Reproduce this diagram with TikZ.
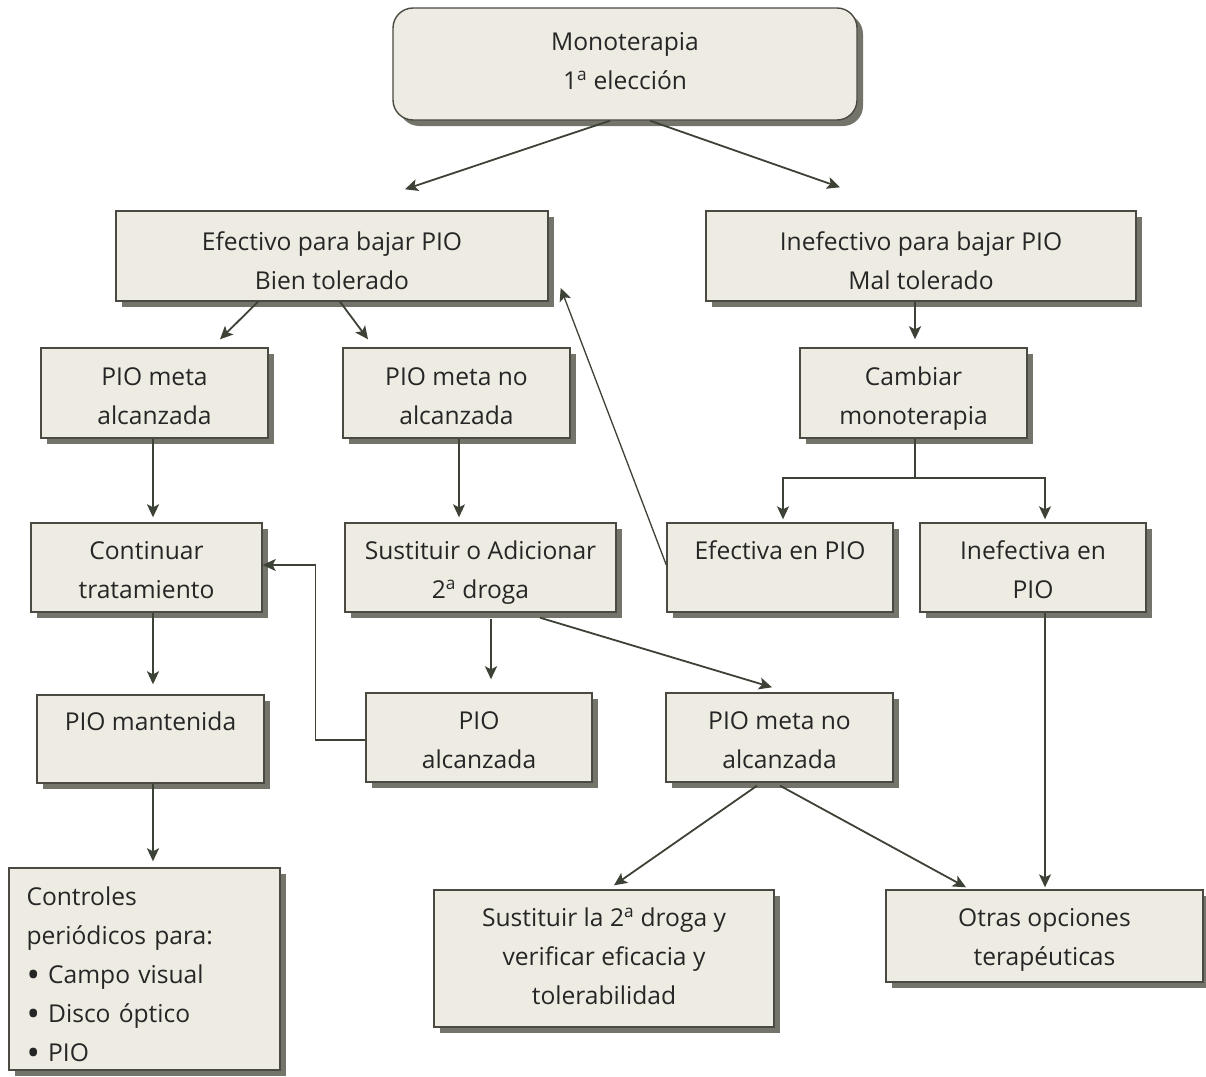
\documentclass[tikz,border=0pt]{standalone}
\usepackage{fontspec}
\setmainfont{Open Sans}
\usetikzlibrary{shadows,arrows.meta,calc}
\definecolor{boxfill}{HTML}{EEECE2}
\definecolor{boxline}{HTML}{4A4A42}
\definecolor{shadowc}{HTML}{74746A}
\definecolor{arrc}{HTML}{3D4236}
\definecolor{txtc}{HTML}{262626}
\newcommand{\ordA}{\textsuperscript{a}}
\newcommand{\bul}{\raisebox{-4pt}{\scalebox{1.45}{\textbullet}}}
% #1 strut height, #2 strut depth, #3 text
\newcommand{\bt}[3]{\rule{0pt}{#1pt}#3\rule[-#2pt]{0pt}{#2pt}}
\tikzset{
  box/.style={draw=boxline, line width=1.4pt, fill=boxfill, text=txtc,
    align=center, inner sep=0pt, font=\fontsize{24.6}{39}\selectfont,
    drop shadow={shadow xshift=6pt, shadow yshift=-6pt, fill=shadowc, opacity=1}},
  arr/.style={draw=arrc, line width=1.8pt, -{Stealth[length=13pt,width=12pt,inset=3pt]}},
  thinarr/.style={arr, line width=1.3pt},
  ln/.style={draw=arrc, line width=1.3pt}
}
\begin{document}
\begin{tikzpicture}[x=1pt,y=-1pt]
\useasboundingbox[fill=white] (0,0) rectangle (1206,1076);
\node[box, rounded corners=20pt, minimum width=464pt, minimum height=112pt] (mono) at (625,64) {\bt{24}{12}{Monoterapia\\1\ordA{} elección}};
\node[box, minimum width=432pt, minimum height=90pt] (efe) at (332,256) {\bt{33}{6}{Efectivo para bajar PIO\\Bien tolerado}};
\node[box, minimum width=430pt, minimum height=90pt] (inef) at (921,256) {\bt{33}{6}{Inefectivo para bajar PIO\\Mal tolerado}};
\node[box, minimum width=227pt, minimum height=90pt] (pma) at (154.5,393) {\bt{30}{7}{PIO meta\\alcanzada}};
\node[box, minimum width=227pt, minimum height=90pt] (pmn) at (456.5,393) {\bt{30}{7}{PIO meta no\\alcanzada}};
\node[box, minimum width=227pt, minimum height=90pt] (camb) at (913.5,393) {\bt{30}{7}{Cambiar\\monoterapia}};
\node[box, minimum width=231pt, minimum height=89pt] (cont) at (146.5,567.5) {\bt{30}{7}{Continuar\\tratamiento}};
\node[box, minimum width=271pt, minimum height=89pt] (sust) at (480.5,567.5) {\bt{30}{7}{Sustituir o Adicionar\\2\ordA{} droga}};
\node[box, minimum width=226pt, minimum height=89pt] (efpio) at (780,567.5) {\bt{30}{7}{Efectiva en PIO\\\phantom{x}}};
\node[box, minimum width=226pt, minimum height=89pt] (inefpio) at (1033,567.5) {\bt{30}{7}{Inefectiva en\\PIO}};
\node[box, minimum width=227pt, minimum height=88pt] (pman) at (150.5,739) {\bt{28}{7}{PIO mantenida\\\phantom{x}}};
\node[box, minimum width=226pt, minimum height=89pt] (pal) at (479,737.5) {\bt{30}{7}{PIO\\alcanzada}};
\node[box, minimum width=227pt, minimum height=89pt] (pmn2) at (779.5,737.5) {\bt{30}{7}{PIO meta no\\alcanzada}};
\node[box, minimum width=271pt, minimum height=202pt, align=left, text width=236pt] (ctrl) at (144.5,969) {\bt{35}{6}{Controles\\periódicos para:\\\bul\ Campo visual\\\bul\ Disco óptico\\\bul\ PIO}};
\node[box, minimum width=340pt, minimum height=137pt] (sust2) at (604,958.5) {\bt{24}{10}{Sustituir la 2\ordA{} droga y\\verificar eficacia y\\tolerabilidad}};
\node[box, minimum width=317pt, minimum height=92pt] (otras) at (1044.5,936) {\bt{27}{7}{Otras opciones\\terapéuticas}};
% connectors
\draw[arr] ([xshift=-15pt]mono.south) -- ([xshift=73pt,yshift=21pt]efe.north);
\draw[arr] ([xshift=25pt]mono.south) -- ([xshift=-81pt,yshift=23pt]inef.north);
\draw[arr] ([xshift=-74pt]efe.south) -- ([xshift=65.5pt,yshift=8pt]pma.north);
\draw[arr] ([xshift=8pt]efe.south) -- ([xshift=-88.5pt,yshift=8pt]pmn.north);
\draw[arr] ([xshift=-6pt]inef.south) -- ([xshift=1.5pt,yshift=8pt]camb.north);
\draw[arr] ([xshift=-1.5pt]pma.south) -- ([xshift=6.5pt,yshift=5pt]cont.north);
\draw[thinarr] ([xshift=2.5pt]pmn.south) -- ([xshift=-21.5pt,yshift=5pt]sust.north);
\coordinate (split) at (915,478);
\draw[ln] ([xshift=1.5pt]camb.south) -- (split);
\draw[thinarr] (split) -| ([xshift=3pt,yshift=3pt]efpio.north);
\draw[thinarr] (split) -| ([xshift=12pt,yshift=3pt]inefpio.north);
\draw[thinarr] ([yshift=2.5pt]efpio.west) -- ([xshift=12pt,yshift=-32pt]efe.east);
\draw[thinarr] ([yshift=-2.5pt]pal.west) -- ++(-50,0) |- ([yshift=2.5pt]cont.east);
\draw[arr] ([xshift=6.5pt]cont.south) -- ([xshift=2.5pt,yshift=10pt]pman.north);
\draw[arr] ([xshift=10.5pt,yshift=-6pt]sust.south) -- ([xshift=12pt,yshift=13pt]pal.north);
\draw[arr] ([xshift=59.5pt,yshift=-5pt]sust.south) -- ([xshift=-7.5pt,yshift=5pt]pmn2.north);
\draw[arr] ([xshift=2.5pt]pman.south) -- ([xshift=8.5pt,yshift=6pt]ctrl.north);
\draw[arr] ([xshift=-22.5pt,yshift=-3pt]pmn2.south) -- ([xshift=10pt,yshift=4pt]sust2.north);
\draw[arr] ([xshift=0.5pt,yshift=-3pt]pmn2.south) -- ([xshift=-78.5pt,yshift=2pt]otras.north);
\draw[thinarr] ([xshift=12pt]inefpio.south) -- ([xshift=0.5pt,yshift=2pt]otras.north);
\end{tikzpicture}
\end{document}
